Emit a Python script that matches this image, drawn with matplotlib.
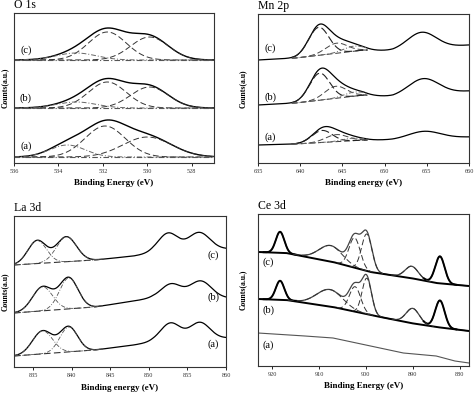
import numpy as np
import matplotlib
matplotlib.use("Agg")
import matplotlib.pyplot as plt

plt.rcParams["font.family"] = ["Liberation Serif", "DejaVu Serif"]

W, H = 474, 393

# ---------------- data ----------------
# y values are in "pixels above the bottom of each panel"; spectra order (c), (b), (a)
labels = ["(c)", "(b)", "(a)"]

# O 1s: flat baselines + three gaussian components (center eV, height, sigma)
o1s_base = [103, 55, 6]
o1s_centers = [[531.8, 529.9, 533.2], [531.8, 529.9, 533.2], [531.9, 530.0, 533.6]]
o1s_heights = [[28, 23, 7], [26, 21, 6], [31, 20, 12]]
o1s_sigmas = [[0.85, 0.85, 0.9], [0.85, 0.85, 0.9], [0.9, 1.1, 0.8]]

# Mn 2p: background knots + peaks
mn_bg_x = [635, 639.5, 647.5, 651, 660]
mn_bg_y = [[103, 105, 113, 112, 118], [58, 60, 68, 66, 72], [18, 19, 23, 23, 26]]
mn_fit_centers = [[642.2, 644.3, 646.3], [642.3, 644.2, 646.4], [642.6, 644.3, 646.2]]
mn_fit_heights = [[28, 10, 5], [27, 12, 4], [12, 7, 2.5]]
mn_fit_sigmas = [[1.2, 1.3, 1.2], [1.2, 1.3, 1.2], [1.2, 1.3, 1.2]]
mn_sat_centers = [654.4, 654.6, 654.7]
mn_sat_heights = [16.5, 16, 7.5]
mn_sat_sigmas = [1.7, 1.8, 1.9]

# La 3d
la_bg_x = [832.5, 843, 848, 850.5, 860]
la_bg_y = [[102, 107, 111, 114, 118], [54, 60, 66, 69, 69], [11, 17, 22, 25, 29]]
la_fit_centers = [[835.5, 839.3], [836.2, 839.6], [836.2, 839.6]]
la_fit_heights = [[23, 25], [24, 31], [23, 25]]
la_fit_sigmas = [[1.2, 1.3], [1.3, 1.2], [1.3, 1.15]]
la_sat_centers = [[852.5, 856.5], [852.9, 856.7], [852.8, 856.6]]
la_sat_heights = [[19, 18], [14, 17], [18, 17]]
la_sat_sigmas = [[1.3, 1.4], [1.3, 1.4], [1.3, 1.3]]

# Ce 3d: (c) and (b) fitted, (a) plain curve
ce_bg_x = [923, 917, 907, 899, 890.5, 885, 878]
ce_bg_y = [[114, 113, 104, 94, 88, 83, 80], [67, 66, 59, 51, 43, 39, 35]]
ce_centers = [[918.3, 907.5, 902.4, 899.8, 890.2, 884.2],
              [918.3, 907.7, 902.3, 899.8, 890.0, 884.2]]
ce_heights = [[21, 16, 30, 37, 12, 27], [19, 17, 25, 36, 15, 27]]
ce_sigmas = [[0.9, 2.5, 1.2, 1.1, 1.4, 1.0], [0.9, 2.8, 1.2, 1.0, 1.4, 1.0]]
ce_a_x = [923, 913, 907, 899, 892, 885, 881, 878]
ce_a_y = [33, 30, 28, 20, 13, 10, 5, 3]


def gauss(x, c, h, s):
    return h * np.exp(-(x - c) ** 2 / (2 * s ** 2))


def panel(rect_px, xlim, ylim, xticks, xlabel, ylabel, title, ylab_x, xlab_y):
    l, r, t, b = rect_px
    ax = fig.add_axes([l / W, 1 - b / H, (r - l) / W, (b - t) / H])
    ax.set_xlim(*xlim)
    ax.set_ylim(0, ylim)
    ax.set_yticks([])
    ax.set_xticks(xticks)
    ax.tick_params(axis="x", labelsize=4.5, length=2, width=0.6, pad=2,
                   labelcolor="#333333")
    for sp in ax.spines.values():
        sp.set_linewidth(0.8)
        sp.set_color("#333333")
    fig.text(l / W, 1 - (t - 8) / H, title, fontsize=8.5, ha="left", va="center")
    fig.text((l + r) / 2 / W, 1 - xlab_y / H, xlabel, fontsize=6.5,
             fontweight="bold", ha="center", va="center")
    fig.text(ylab_x / W, 1 - (t + b) / 2 / H, ylabel, fontsize=5.5,
             fontweight="bold", rotation=90, ha="center", va="center")
    return ax


fig = plt.figure(figsize=(W / 100, H / 100), dpi=100)

# ---------------- O 1s ----------------
ax = panel((14, 214, 13, 163), (536, 527), 150, [536, 534, 532, 530, 528],
           "Binding Energy (eV)", "Counts(a.u.)", "O 1s", 5, 183)
x = np.linspace(536, 527, 600)
for i in range(3):
    base = o1s_base[i]
    comps = [gauss(x, c, h, s) for c, h, s in
             zip(o1s_centers[i], o1s_heights[i], o1s_sigmas[i])]
    ax.plot(x, base + sum(comps), color="black", lw=1.0)
    ax.plot(x, base + comps[0], color="#333333", lw=0.7, ls=(0, (6, 3)))
    ax.plot(x, base + comps[1], color="#333333", lw=0.7, ls=(0, (6, 3)))
    ax.plot(x, base + comps[2], color="#666666", lw=0.7, ls=(0, (5, 2, 1, 2)))
    ax.plot(x, np.full_like(x, base), color="#555555", lw=0.8, ls=(0, (5, 2, 1, 2)))
o1s_lab_y = [0.75, 0.43, 0.11]
for lab, yy in zip(labels, o1s_lab_y):
    ax.text(0.06, yy, lab, transform=ax.transAxes, fontsize=7.5, ha="center", va="center")

# ---------------- Mn 2p ----------------
ax = panel((258, 469, 14, 163), (635, 660), 149, [635, 640, 645, 650, 655, 660],
           "Binding energy (eV)", "Counts(a.u)", "Mn 2p", 243, 183)
x = np.linspace(635, 660, 800)
for i in range(3):
    bg = np.interp(x, mn_bg_x, mn_bg_y[i])
    comps = [gauss(x, c, h, s) for c, h, s in
             zip(mn_fit_centers[i], mn_fit_heights[i], mn_fit_sigmas[i])]
    sat = gauss(x, mn_sat_centers[i], mn_sat_heights[i], mn_sat_sigmas[i])
    ax.plot(x, bg + sum(comps) + sat, color="black", lw=0.9)
    m = (x >= 639) & (x <= 648)
    ax.plot(x[m], bg[m], color="#333333", lw=0.7, ls=(0, (6, 3)))
    ax.plot(x[m], bg[m] + comps[0][m], color="#222222", lw=0.8, ls=(0, (7, 3)))
    ax.plot(x[m], bg[m] + comps[1][m], color="#444444", lw=0.7, ls=(0, (6, 3)))
    ax.plot(x[m], bg[m] + comps[2][m], color="#666666", lw=0.7, ls=(0, (5, 2, 1, 2)))
mn_lab_y = [0.77, 0.44, 0.17]
for lab, yy in zip(labels, mn_lab_y):
    ax.text(0.06, yy, lab, transform=ax.transAxes, fontsize=7.5, ha="center", va="center")

# ---------------- La 3d ----------------
ax = panel((14, 226, 216, 367), (832.5, 860), 151, [835, 840, 845, 850, 855, 860],
           "Binding energy (eV)", "Counts(a.u)", "La 3d", 5, 388)
x = np.linspace(832.5, 860, 800)
for i in range(3):
    bg = np.interp(x, la_bg_x, la_bg_y[i])
    comps = [gauss(x, c, h, s) for c, h, s in
             zip(la_fit_centers[i], la_fit_heights[i], la_fit_sigmas[i])]
    sats = [gauss(x, c, h, s) for c, h, s in
            zip(la_sat_centers[i], la_sat_heights[i], la_sat_sigmas[i])]
    ax.plot(x, bg + sum(comps) + sum(sats), color="black", lw=0.9)
    m = x <= 844
    ax.plot(x[m], bg[m], color="#333333", lw=0.8, ls=(0, (6, 3)))
    for cp in comps:
        ax.plot(x[m], bg[m] + cp[m], color="#555555", lw=0.6, ls=(0, (5, 2, 1, 2)))
la_lab_y = [0.74, 0.46, 0.15]
for lab, yy in zip(labels, la_lab_y):
    ax.text(0.94, yy, lab, transform=ax.transAxes, fontsize=7.5, ha="center", va="center")

# ---------------- Ce 3d ----------------
ax = panel((258, 469, 214, 366), (923, 878), 152, [920, 910, 900, 890, 880],
           "Binding Energy (eV)", "Counts(a.u.)", "Ce 3d", 243, 386)
x = np.linspace(923, 878, 900)
for i in range(2):
    bg = np.interp(x, ce_bg_x[::-1], ce_bg_y[i][::-1])
    comps = [gauss(x, c, h, s) for c, h, s in
             zip(ce_centers[i], ce_heights[i], ce_sigmas[i])]
    ax.plot(x, bg + sum(comps), color="#444444", lw=0.9)
    for k in (0, 5):
        m = np.abs(x - ce_centers[i][k]) < 3.5
        ax.plot(x[m], bg[m] + sum(comps)[m], color="black", lw=1.4)
    ax.plot(x, bg, color="black", lw=1.4)
    for k in (1, 2, 3, 4):
        m = np.abs(x - ce_centers[i][k]) < 3.2 * ce_sigmas[i][k]
        ax.plot(x[m], bg[m] + comps[k][m], color="#333333", lw=0.7, ls=(0, (6, 3)))
ax.plot(ce_a_x, ce_a_y, color="#555555", lw=0.8)
ce_lab_y = [0.68, 0.37, 0.14]
for lab, yy in zip(labels, ce_lab_y):
    ax.text(0.05, yy, lab, transform=ax.transAxes, fontsize=7.5, ha="center", va="center")

fig.savefig("out.png", dpi=100)
